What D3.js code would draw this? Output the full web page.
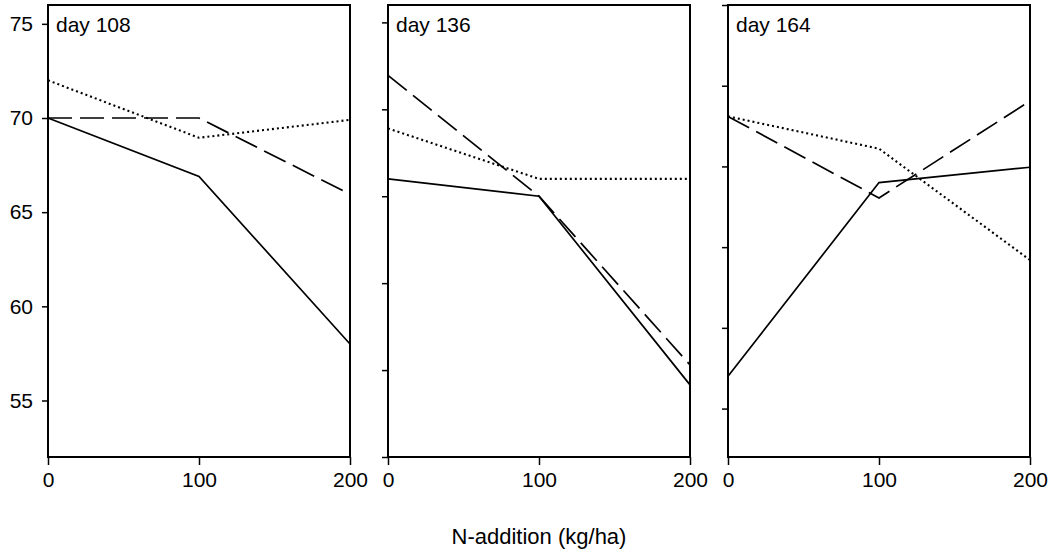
<!DOCTYPE html>
<html>
<head>
<meta charset="utf-8">
<script src="https://cdn.jsdelivr.net/npm/d3@7"></script>
<style>
  body { margin: 0; background: #fff; }
  svg { display: block; font-family: "Liberation Sans", Arial, sans-serif; }
</style>
</head>
<body>
<div id="chart"></div>
<script>
// values
const doses = [0, 100, 200];
const xTicks = [0, 100, 200];
const panelLabels = ["day 108", "day 136", "day 164"];

// each panel has its own y axis (only the first one is labelled)
const yDomains = [[52, 76], [50, 76], [47, 75]];
const yTickSets = [[55, 60, 65, 70, 75], [50, 55, 60, 65, 70, 75], [50, 55, 60, 65, 70, 75]];

// one entry per panel
const solidSeries = [[70, 66.9, 58], [66, 65, 54.15], [52, 64, 64.95]];
const dashedSeries = [[70, 70, 65.95], [71.95, 65, 55.3], [68.1, 63.05, 69.05]];
const dottedSeries = [[72, 68.95, 69.9], [68.9, 66, 66], [68.1, 66.1, 59.2]];

const width = 1052, height = 556;
const panelLeft = [48, 388, 728];
const panelW = 302;
const plotTop = 5, plotBottom = 457;

const svg = d3.select('#chart').append('svg')
  .attr('width', width)
  .attr('height', height);

// styles of the three lines
const styles = [
  { data: solidSeries, dash: null, w: 1.7 },
  { data: dashedSeries, dash: "24,8", w: 1.7 },
  { data: dottedSeries, dash: "2,3", w: 2.1 }
];

panelLabels.forEach((label, i) => {
  const x = d3.scaleLinear().domain([0, 200]).range([panelLeft[i], panelLeft[i] + panelW]);
  const y = d3.scaleLinear().domain(yDomains[i]).range([plotBottom, plotTop]);
  const g = svg.append('g');

  const line = d3.line()
    .x((d, j) => x(doses[j]))
    .y(d => y(d));

  styles.forEach(s => {
    g.append('path')
      .attr('d', line(s.data[i]))
      .attr('fill', 'none')
      .attr('stroke', '#000')
      .attr('stroke-width', s.w)
      .attr('stroke-dasharray', s.dash);
  });

  // frame
  g.append('rect')
    .attr('x', panelLeft[i])
    .attr('y', plotTop)
    .attr('width', panelW)
    .attr('height', plotBottom - plotTop)
    .attr('fill', 'none')
    .attr('stroke', '#000')
    .attr('stroke-width', 2);

  // y axis
  const yAxis = d3.axisLeft(y).tickValues(yTickSets[i]).tickSize(6).tickSizeOuter(0).tickPadding(9);
  if (i > 0) yAxis.tickFormat('');
  const ya = g.append('g')
    .attr('transform', 'translate(' + panelLeft[i] + ',0)')
    .call(yAxis);
  ya.select('.domain').remove();
  ya.selectAll('line').attr('stroke-width', 1.5);
  ya.selectAll('text').attr('font-size', 21).attr('fill', '#000');

  // x axis
  const xAxis = d3.axisBottom(x).tickValues(xTicks).tickSize(8).tickSizeOuter(0).tickPadding(7);
  const xa = g.append('g')
    .attr('transform', 'translate(0,' + plotBottom + ')')
    .call(xAxis);
  xa.select('.domain').remove();
  xa.selectAll('line').attr('stroke-width', 1.5);
  xa.selectAll('text').attr('font-size', 21).attr('fill', '#000');

  // panel label
  g.append('text')
    .attr('x', panelLeft[i] + 8)
    .attr('y', 32)
    .attr('font-size', 21)
    .text(label);
});

svg.append('text')
  .attr('x', panelLeft[1] + panelW / 2)
  .attr('y', 544)
  .attr('text-anchor', 'middle')
  .attr('font-size', 22)
  .text('N-addition (kg/ha)');
</script>
</body>
</html>
